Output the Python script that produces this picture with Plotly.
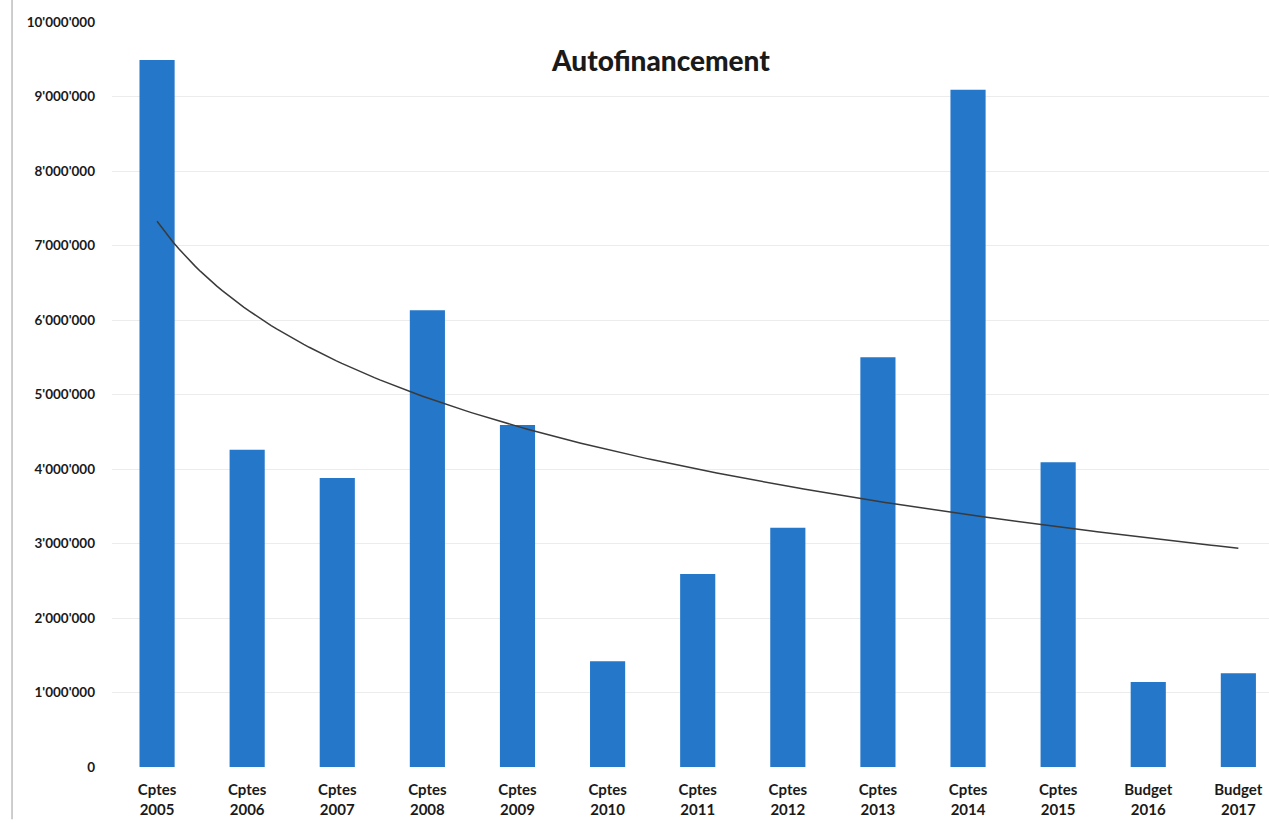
import numpy as np
import plotly.graph_objects as go

categories = ["Cptes<br>2005", "Cptes<br>2006", "Cptes<br>2007", "Cptes<br>2008", "Cptes<br>2009",
              "Cptes<br>2010", "Cptes<br>2011", "Cptes<br>2012", "Cptes<br>2013", "Cptes<br>2014",
              "Cptes<br>2015", "Budget<br>2016", "Budget<br>2017"]
values = [9490000, 4260000, 3880000, 6130000, 4590000, 1420000, 2590000,
          3210000, 5500000, 9090000, 4090000, 1140000, 1260000]
y_ticks = [0, 1000000, 2000000, 3000000, 4000000, 5000000, 6000000,
           7000000, 8000000, 9000000, 10000000]
y_ticktext = ["{:,}".format(v).replace(",", "'") for v in y_ticks]

pos = np.arange(1, len(values) + 1)

# logarithmic trendline (least squares fit on the bar values)
b, a = np.polyfit(np.log(pos), values, 1)
xt = np.linspace(1, len(values), 200)
yt = a + b * np.log(xt)

fig = go.Figure()
fig.add_trace(go.Bar(x=pos, y=values, width=0.39, marker=dict(color="#2477c9", line=dict(width=0)),
                     showlegend=False))
fig.add_trace(go.Scatter(x=xt, y=yt, mode="lines", line=dict(color="#3a3a3a", width=1.5),
                         showlegend=False, hoverinfo="skip"))

font_main = "Lato, 'Open Sans', sans-serif"
fig.update_layout(
    width=1269, height=823,
    margin=dict(l=112, r=0, t=22, b=56),
    paper_bgcolor="white", plot_bgcolor="white",
    font=dict(family=font_main, color="#1a1a1a"),
    bargap=0.6,
    xaxis=dict(range=[0.5, 13.34], tickvals=list(pos), ticktext=categories,
               tickfont=dict(size=15, family=font_main, weight="bold", color="#1a1a1a"),
               showgrid=False, zeroline=False, showline=False, ticks="", ticklabelstandoff=12),
    yaxis=dict(range=[0, 10000000], tickvals=y_ticks, ticktext=y_ticktext,
               tickfont=dict(size=13.5, family=font_main, weight="bold", color="#1a1a1a"),
               showgrid=True, gridcolor="#ececec", gridwidth=1, zeroline=False,
               showline=False, ticks="", ticklabelstandoff=16),
    annotations=[dict(text="Autofinancement", x=0.4745, y=0.949, xref="paper", yref="paper",
                      xanchor="center", yanchor="middle", showarrow=False,
                      font=dict(size=28, family=font_main, weight=900, color="#1a1a1a"))],
    shapes=[dict(type="line", xref="paper", yref="paper", x0=-0.0864, x1=-0.0864,
                 y0=-0.07, y1=1.03, line=dict(color="#bdbdbd", width=1.5))],
)

fig.write_html("out.html")
